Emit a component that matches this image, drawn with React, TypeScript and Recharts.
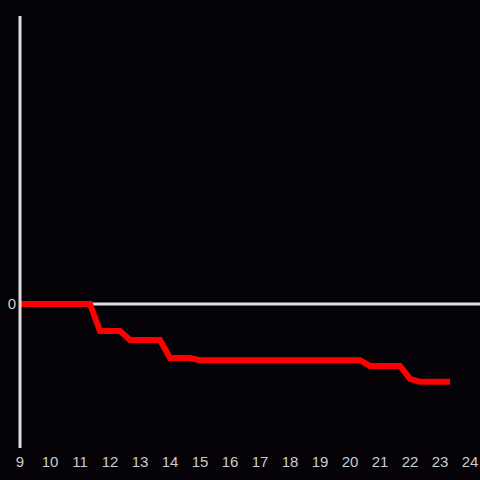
import React from "react";
import { LineChart, Line, XAxis, YAxis, ReferenceLine } from "recharts";

const hours: number[] = [9, 11.333, 11.667, 12.333, 12.667, 13.667, 14, 14.667, 15, 20.333, 20.667, 21.667, 22, 22.333, 23.333];
const values: number[] = [0, 0, -18.75, -18.75, -25, -25, -37.5, -37.5, -39, -39, -43, -43, -52, -54, -54];
const xTicks: number[] = [9, 10, 11, 12, 13, 14, 15, 16, 17, 18, 19, 20, 21, 22, 23, 24];
const yTicks: number[] = [0];

const data = hours.map((h, i) => ({ h, v: values[i] }));

export default function App() {
  return (
    <div style={{ position: "absolute", left: 0, top: 0, width: 480, height: 480, background: "#050307" }}>
      <LineChart width={480} height={480} data={data} margin={{ top: 16, right: 0, bottom: 0, left: 0 }}>
        <XAxis
          type="number"
          dataKey="h"
          domain={[9, 24.3333]}
          ticks={xTicks}
          height={32}
          axisLine={false}
          tickLine={false}
          interval={0}
          tick={{ fill: "#cccccc", fontSize: 15, fontFamily: "Liberation Sans, Arial, sans-serif" }}
        />
        <YAxis
          type="number"
          domain={[-100, 200]}
          ticks={yTicks}
          width={20}
          axisLine={{ stroke: "#dddddd", strokeWidth: 3 }}
          tickLine={false}
          tickSize={2}
          tickMargin={2}
          tick={{ fill: "#cccccc", fontSize: 15, fontFamily: "Liberation Sans, Arial, sans-serif" }}
        />
        <ReferenceLine y={0} stroke="#dddddd" strokeWidth={3} />
        <Line
          type="linear"
          dataKey="v"
          stroke="#ff0000"
          strokeWidth={6}
          dot={false}
          isAnimationActive={false}
        />
      </LineChart>
    </div>
  );
}
